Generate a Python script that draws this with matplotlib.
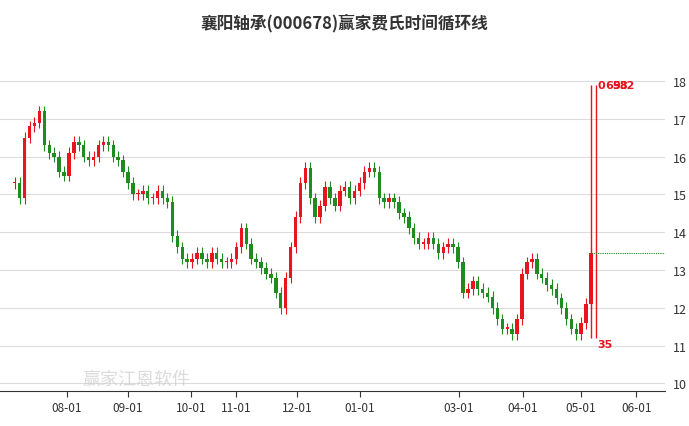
import matplotlib
matplotlib.use("Agg")
import matplotlib.pyplot as plt

plt.rcParams['font.family'] = ['Noto Sans CJK SC', 'DejaVu Sans']

closes = [15.3,14.9,16.5,16.8,16.9,17.2,16.3,16.1,16.0,15.6,15.5,16.1,16.4,16.3,16.0,15.9,16.0,16.3,
          16.4,16.3,16.0,15.9,15.6,15.3,15.0,15.0,15.1,14.9,14.9,15.1,14.9,14.8,13.9,13.6,13.3,13.2,
          13.3,13.45,13.3,13.2,13.45,13.3,13.2,13.2,13.3,13.6,14.1,13.7,13.3,13.2,13.05,12.9,12.8,12.4,
          12.0,12.8,13.6,14.4,15.3,15.7,14.9,14.4,14.7,15.2,14.9,14.7,15.1,15.2,14.9,15.1,15.3,15.6,
          15.7,15.6,14.9,14.8,14.9,14.8,14.5,14.4,14.1,13.85,13.7,13.7,13.85,13.7,13.45,13.6,13.7,13.6,
          13.2,12.4,12.5,12.7,12.5,12.4,12.3,12.0,11.7,11.45,11.45,11.3,11.7,12.9,13.2,13.3,12.9,12.8,
          12.6,12.5,12.25,12.0,11.7,11.45,11.3,11.6,12.1,13.45]
opens = [closes[0]] + closes[:-1]
tick_labels = ['08-01','09-01','10-01','11-01','12-01','01-01','03-01','04-01','05-01','06-01']
tick_idx = [10.6,23,35.8,45,57.4,70,90.2,103.2,115,126.2]
cycle_idx = [117, 118]
cycle_top, cycle_bot = 17.9, 11.2
top_labels = ['0', '65', '98', '32']
bottom_label = '35'
level = 13.45

fig = plt.figure(figsize=(6.89, 4.27), dpi=100)
ax = fig.add_axes([0.0, 0.082, 0.965, 0.77])
up, dn = '#e8141e', '#1e8c1e'
for i, (o, c) in enumerate(zip(opens, closes)):
    col = up if c >= o else dn
    lo, hi = min(o, c), max(o, c)
    ax.vlines(i, lo - 0.15, hi + 0.15, color=col, lw=0.8)
    ax.bar(i, max(hi - lo, 0.03), bottom=lo, width=0.7, color=col)
for x in cycle_idx:
    ax.vlines(x, cycle_bot, cycle_top, color=up, lw=1)
for k, t in enumerate(top_labels):
    ax.text(cycle_idx[1] + 0.3 + k * 1.5, cycle_top, t, color=up, fontsize=8,
            fontweight='bold', va='center', family='DejaVu Sans')
ax.text(cycle_idx[1] + 0.3, 11.05, bottom_label, color=up, fontsize=8, fontweight='bold',
        va='center', family='DejaVu Sans')
ax.hlines(level, cycle_idx[0], 135, color='#1e8c1e', lw=0.8, linestyles=(0, (1, 1)))
ax.set_xlim(-3, 132)
ax.set_ylim(9.8, 18.5)
ax.yaxis.tick_right()
ax.set_yticks(range(10, 19))
ax.tick_params(axis='y', length=0, labelsize=9, colors='#333333', pad=6)
ax.set_xticks(tick_idx)
ax.set_xticklabels(tick_labels)
ax.tick_params(axis='x', labelsize=8.5, colors='#333333', length=4)
ax.grid(axis='y', color='#dddddd', lw=0.8)
ax.set_axisbelow(True)
for s in ['top', 'right', 'left']:
    ax.spines[s].set_visible(False)
ax.spines['bottom'].set_color('#333333')
fig.text(0.5, 0.945, '襄阳轴承(000678)赢家费氏时间循环线', ha='center', va='center',
         fontsize=12, fontweight='bold', color='#333333')
fig.text(0.12, 0.1, '赢家江恩软件', fontsize=13, color='#cccccc', alpha=0.7)
fig.savefig('out.png', dpi=100)
